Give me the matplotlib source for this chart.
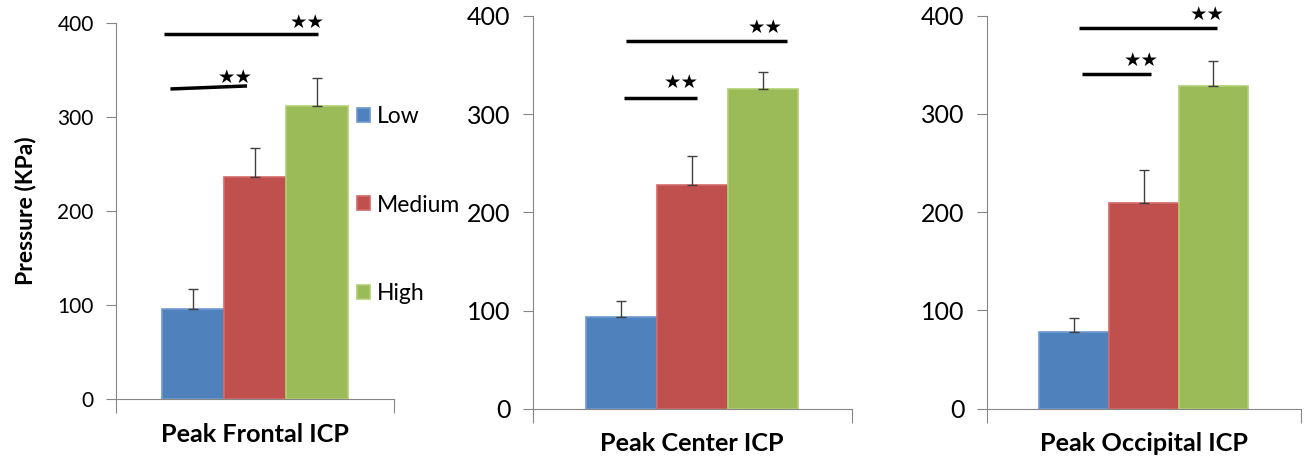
import matplotlib.pyplot as plt

# Data
levels = ['Low', 'Medium', 'High']
panels = ['Peak Frontal ICP', 'Peak Center ICP', 'Peak Occipital ICP']
frontal_mean = [96, 236, 311]
frontal_err = [21, 31, 30]
center_mean = [93, 228, 326]
center_err = [17, 29, 17]
occipital_mean = [78, 209, 328]
occipital_err = [14, 34, 26]
yticks = [0, 100, 200, 300, 400]

means = [frontal_mean, center_mean, occipital_mean]
errs = [frontal_err, center_err, occipital_err]

colors = ['#4F81BD', '#C0504D', '#9BBB59']
edges = ['#6E9AD0', '#D46A67', '#B0CF72']
axis_grey = '#868686'

# axes boxes in figure fraction (left, bottom, width, height)
boxes = [
    (0.0888, 0.1338, 0.2127, 0.8170),
    (0.4076, 0.1135, 0.2440, 0.8518),
    (0.7549, 0.1135, 0.2403, 0.8525),
]
tick_sizes = [15, 18, 18]

# significance bars: (x0, y0, x1, y1, star_x, star_y)
sig_lines = [
    [(-0.48, 388, 2.02, 388, 1.84, 400), (-0.37, 329.6, 0.87, 332.8, 0.68, 342)],
    [(0.07, 375, 2.34, 375, 2.03, 388), (0.04, 316.5, 1.07, 316.5, 0.85, 332)],
    [(0.07, 387, 2.05, 387, 1.91, 401), (0.11, 341, 1.10, 341, 0.97, 354)],
]

plt.rcParams['font.family'] = ['Lato', 'DejaVu Sans']

fig = plt.figure(figsize=(13.07, 4.61), dpi=100)

bar_handles = None
for i, box in enumerate(boxes):
    ax = fig.add_axes(box)
    x = list(range(len(levels)))
    bars = ax.bar(x, means[i], width=1.0, color=colors, edgecolor=edges, linewidth=1.2)
    if bar_handles is None:
        bar_handles = bars
    ax.errorbar(x, means[i], yerr=[[0, 0, 0], errs[i]], fmt='none',
                ecolor='#404040', elinewidth=1, capsize=3.5, capthick=1)

    ax.set_xlim(-1.25, 3.25)
    ax.set_ylim(0, 400)
    ax.set_yticks(yticks)
    ax.set_xticks([-1.25, 3.25])
    ax.set_xticklabels(['', ''])
    ax.tick_params(axis='y', length=7, color=axis_grey, labelsize=tick_sizes[i], pad=9)
    ax.tick_params(axis='x', length=10, color=axis_grey)
    for s in ['top', 'right']:
        ax.spines[s].set_visible(False)
    for s in ['left', 'bottom']:
        ax.spines[s].set_color(axis_grey)
    ax.set_xlabel(panels[i], fontsize=18.2, fontweight='bold', labelpad=3.5)

    for x0, y0, x1, y1, sx, sy in sig_lines[i]:
        ax.plot([x0, x1], [y0, y1], color='black', lw=2.5, clip_on=False,
                solid_capstyle='butt')
        ax.text(sx, sy, '\u2605\u2605', fontsize=14, ha='center', va='center',
                family='DejaVu Sans', clip_on=False)

    if i == 0:
        ax.set_ylabel('Pressure (KPa)', fontsize=16.5, fontweight='bold', labelpad=15)

fig.legend(bar_handles, levels, loc='center left',
           bbox_to_anchor=(357 / 1307, 1 - 205 / 461), frameon=False,
           fontsize=16.5, borderpad=0, borderaxespad=0, handlelength=0.55,
           handleheight=0.55, handletextpad=0.33, labelspacing=2.95)

fig.savefig('out.png', dpi=100)
